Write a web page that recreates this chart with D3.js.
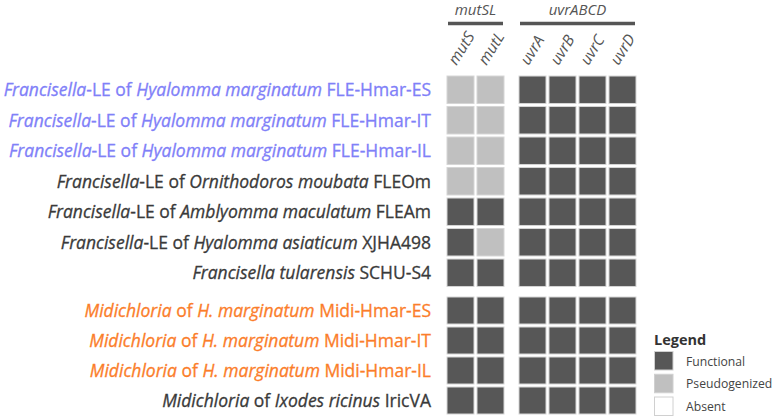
<!DOCTYPE html>
<html>
<head>
<meta charset="utf-8">
<script src="https://cdn.jsdelivr.net/npm/d3@7.9.0/dist/d3.min.js"></script>
<style>
  body { margin: 0; background: #fff; }
  svg { font-family: "Open Sans", "Noto Sans", sans-serif; }
</style>
</head>
<body>
<svg width="773" height="416"></svg>
<script>
// gene groups and column names
const groupNames = ['mutSL', 'uvrABCD'];
const mutGenes = ['mutS', 'mutL'];
const uvrGenes = ['uvrA', 'uvrB', 'uvrC', 'uvrD'];

// row labels: [text, italic?] pieces
const franLabels = [
  [['Francisella', 1], ['-LE of ', 0], ['Hyalomma marginatum', 1], [' FLE-Hmar-ES', 0]],
  [['Francisella', 1], ['-LE of ', 0], ['Hyalomma marginatum', 1], [' FLE-Hmar-IT', 0]],
  [['Francisella', 1], ['-LE of ', 0], ['Hyalomma marginatum', 1], [' FLE-Hmar-IL', 0]],
  [['Francisella', 1], ['-LE of ', 0], ['Ornithodoros moubata', 1], [' FLEOm', 0]],
  [['Francisella', 1], ['-LE of ', 0], ['Amblyomma maculatum', 1], [' FLEAm', 0]],
  [['Francisella', 1], ['-LE of ', 0], ['Hyalomma asiaticum', 1], [' XJHA498', 0]],
  [['Francisella tularensis', 1], [' SCHU-S4', 0]]
];
const midiLabels = [
  [['Midichloria', 1], [' of ', 0], ['H. marginatum', 1], [' Midi-Hmar-ES', 0]],
  [['Midichloria', 1], [' of ', 0], ['H. marginatum', 1], [' Midi-Hmar-IT', 0]],
  [['Midichloria', 1], [' of ', 0], ['H. marginatum', 1], [' Midi-Hmar-IL', 0]],
  [['Midichloria', 1], [' of ', 0], ['Ixodes ricinus', 1], [' IricVA', 0]]
];
// label colour class per row
const franColors = ['hmar', 'hmar', 'hmar', 'other', 'other', 'other', 'other'];
const midiColors = ['midi', 'midi', 'midi', 'other'];

// gene status per row, F = functional, P = pseudogenized, A = absent
const franStatus = [
  ['P', 'P', 'F', 'F', 'F', 'F'],
  ['P', 'P', 'F', 'F', 'F', 'F'],
  ['P', 'P', 'F', 'F', 'F', 'F'],
  ['P', 'P', 'F', 'F', 'F', 'F'],
  ['F', 'F', 'F', 'F', 'F', 'F'],
  ['F', 'P', 'F', 'F', 'F', 'F'],
  ['F', 'F', 'F', 'F', 'F', 'F']
];
const midiStatus = [
  ['F', 'F', 'F', 'F', 'F', 'F'],
  ['F', 'F', 'F', 'F', 'F', 'F'],
  ['F', 'F', 'F', 'F', 'F', 'F'],
  ['F', 'F', 'F', 'F', 'F', 'F']
];

const legendKeys = ['F', 'P', 'A'];
const legendNames = ['Functional', 'Pseudogenized', 'Absent'];

const fillColor = { F: '#575757', P: '#c0c0c0', A: '#ffffff' };
const labelColor = { hmar: '#8080f8', midi: '#fb7d2a', other: '#3a3a3a' };

const svg = d3.select('svg');

// x scales, one per gene group
const xMut = d3.scaleBand().domain(mutGenes).range([445.5, 505.5]).paddingInner(0.1).paddingOuter(0.05);
const xUvr = d3.scaleBand().domain(uvrGenes).range([517.5, 637.5]).paddingInner(0.1).paddingOuter(0.05);
const genes = mutGenes.concat(uvrGenes);
const xPos = g => mutGenes.includes(g) ? xMut(g) : xUvr(g);
const bw = xMut.bandwidth();

// y scales, one per bacteria group
const yFran = d3.scaleBand().domain(d3.range(franLabels.length)).range([74.5, 74.5 + 7 * 30.5]).paddingInner(0.1).paddingOuter(0.05);
const yMidi = d3.scaleBand().domain(d3.range(midiLabels.length)).range([295.5, 295.5 + 4 * 30]).paddingInner(0.1).paddingOuter(0.05);

const blocks = [
  { labels: franLabels, colors: franColors, status: franStatus, y: yFran },
  { labels: midiLabels, colors: midiColors, status: midiStatus, y: yMidi }
];

blocks.forEach(b => {
  const rows = svg.append('g').selectAll('g')
    .data(b.labels.map((l, i) => ({ label: l, color: b.colors[i], status: b.status[i], i })))
    .join('g')
    .attr('transform', d => `translate(0,${b.y(d.i)})`);

  const bh = b.y.bandwidth();

  rows.selectAll('rect')
    .data(d => d.status.map((s, j) => ({ s, gene: genes[j] })))
    .join('rect')
    .attr('x', d => xPos(d.gene))
    .attr('y', 0)
    .attr('width', bw)
    .attr('height', bh)
    .attr('fill', d => fillColor[d.s])
    .attr('stroke', '#d6d6d6')
    .attr('stroke-width', 1);

  // slight stroke to thicken the glyphs a little
  const txt = rows.append('text')
    .attr('x', 431)
    .attr('y', bh / 2)
    .attr('dy', '0.36em')
    .attr('text-anchor', 'end')
    .attr('font-size', 17.5)
    .attr('fill', d => labelColor[d.color])
    .attr('stroke', d => labelColor[d.color])
    .attr('stroke-width', 0.3);
  txt.selectAll('tspan')
    .data(d => d.label)
    .join('tspan')
    .attr('font-style', d => d[1] ? 'italic' : 'normal')
    .text(d => d[0]);
});

// group headers with bars
const groupSpans = [[xMut, mutGenes], [xUvr, uvrGenes]];
groupSpans.forEach(([sc, gs], i) => {
  const x0 = sc(gs[0]) + 1;
  const x1 = sc(gs[gs.length - 1]) + sc.bandwidth() - 1;
  svg.append('text')
    .attr('x', (x0 + x1) / 2)
    .attr('y', 15)
    .attr('text-anchor', 'middle')
    .attr('font-size', 15)
    .attr('font-style', 'italic')
    .attr('fill', '#555')
    .text(groupNames[i]);
  svg.append('line')
    .attr('x1', x0).attr('x2', x1)
    .attr('y1', 23.5).attr('y2', 23.5)
    .attr('stroke', '#555')
    .attr('stroke-width', 3.5);
});

// rotated column labels
svg.append('g').selectAll('text')
  .data(genes)
  .join('text')
  .attr('transform', g => `translate(${xPos(g) + bw / 2 - 4},66) rotate(-58)`)
  .attr('font-size', 15.5)
  .attr('font-style', 'italic')
  .attr('fill', '#555')
  .text(g => g);

// legend
const lg = svg.append('g').attr('transform', 'translate(654,0)');
lg.append('text')
  .attr('x', 0).attr('y', 345)
  .attr('font-size', 14.5)
  .attr('font-weight', 'bold')
  .attr('fill', '#333')
  .text('Legend');
const yLeg = d3.scaleBand().domain(legendKeys).range([351, 417]).paddingInner(0.1);
lg.selectAll('rect')
  .data(legendKeys)
  .join('rect')
  .attr('x', 0.5)
  .attr('y', k => yLeg(k) + 0.5)
  .attr('width', 18.5)
  .attr('height', 18.5)
  .attr('fill', k => fillColor[k])
  .attr('stroke', '#d0d0d0');
lg.selectAll('text.item')
  .data(legendKeys)
  .join('text')
  .attr('class', 'item')
  .attr('x', 32)
  .attr('y', k => yLeg(k) + yLeg.bandwidth() / 2)
  .attr('dy', '0.35em')
  .attr('font-size', 12.2)
  .attr('fill', '#444')
  .text((k, i) => legendNames[i]);
</script>
</body>
</html>
